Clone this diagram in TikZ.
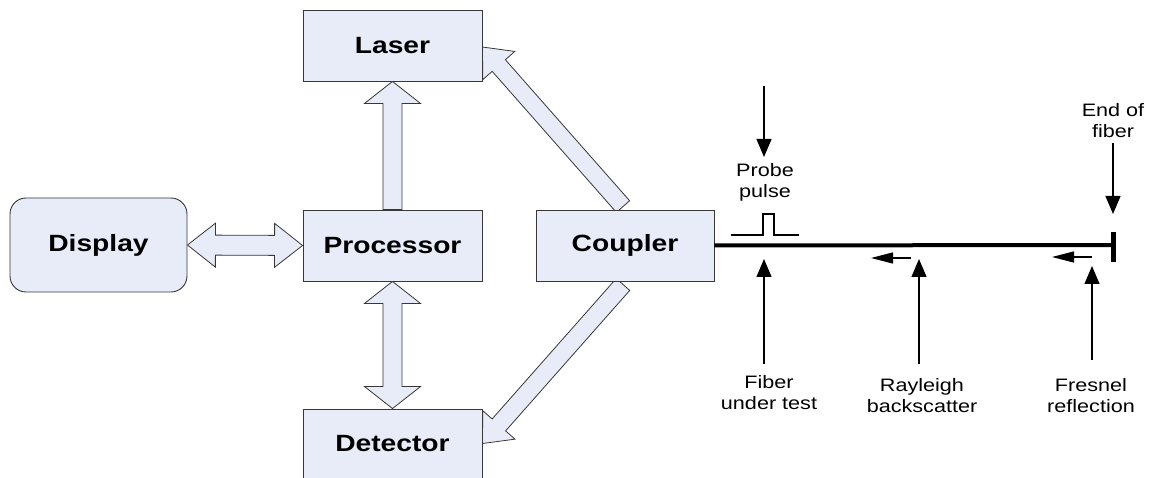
\documentclass[tikz,border=0pt]{standalone}
\usepackage{fontspec}
\setmainfont{Liberation Sans}[FakeStretch=1.2]
\usetikzlibrary{calc,arrows.meta}
\pgfdeclarelayer{bg}
\pgfsetlayers{bg,main}
\definecolor{boxfill}{RGB}{231,236,248}
\definecolor{edgecol}{RGB}{55,55,55}
\tikzset{
  blockbox/.style={draw=edgecol, fill=boxfill, line width=0.9pt, minimum width=179pt,
    minimum height=71pt, inner sep=0pt, font=\fontsize{23.5}{28}\selectfont\bfseries},
  fatarr/.style={draw=edgecol, fill=boxfill, line width=0.8pt, line join=miter},
  lbl/.style={align=center, inner sep=0pt, font=\fontsize{18}{21}\selectfont},
  thinarr/.style={line width=1.3pt, -{Triangle[length=18pt,width=15pt]}},
  smallarr/.style={line width=1.3pt, -{Triangle[length=22pt,width=11pt]}},
}
% #1 start, #2 end, #3 shaft half width, #4 head half width, #5 head length
\newcommand{\fatarrow}[5]{%
  \path (#1) coordinate (faS) (#2) coordinate (faE);
  \coordinate (faH) at ($(faE)!#5!(faS)$);
  \draw[fatarr] ($(faS)!#3!90:(faE)$) -- ($(faH)!#3!-90:(faS)$) -- ($(faH)!#4!-90:(faS)$)
    -- (faE) -- ($(faH)!#4!90:(faS)$) -- ($(faH)!#3!90:(faS)$) -- ($(faS)!#3!-90:(faE)$) -- cycle;
}
\newcommand{\fatdarrow}[5]{%
  \path (#1) coordinate (faS) (#2) coordinate (faE);
  \coordinate (faHa) at ($(faS)!#5!(faE)$);
  \coordinate (faHb) at ($(faE)!#5!(faS)$);
  \draw[fatarr] (faS) -- ($(faHa)!#4!90:(faE)$) -- ($(faHa)!#3!90:(faE)$)
    -- ($(faHb)!#3!-90:(faS)$) -- ($(faHb)!#4!-90:(faS)$) -- (faE)
    -- ($(faHb)!#4!90:(faS)$) -- ($(faHb)!#3!90:(faS)$)
    -- ($(faHa)!#3!-90:(faE)$) -- ($(faHa)!#4!-90:(faE)$) -- cycle;
}
\begin{document}
\begin{tikzpicture}[x=1pt,y=-1pt]
\useasboundingbox (0,0) rectangle (1149,478);
% blocks
\node[blockbox] (laser) at (392.5,45.5) {Laser};
\node[blockbox] (proc) at (392.5,245.5) {Processor};
\node[blockbox, minimum width=178pt] (coup) at (625,245.5) {Coupler};
\node[blockbox, minimum height=69pt] (det) at (392.5,443.5) {Detector};
\node[blockbox, minimum width=177pt, minimum height=94pt, rounded corners=16pt] (disp) at (98.5,245) {Display};
% block arrows
\begin{pgfonlayer}{bg}
\fatarrow{proc.north}{laser.south}{9.5pt}{28pt}{22pt}
\fatdarrow{proc.south}{det.north}{9.5pt}{28pt}{22pt}
\fatdarrow{disp.east}{proc.west}{10pt}{22pt}{28pt}
\fatarrow{$(coup.north)+(-2,-3)$}{$(laser.east)+(0,1.5)$}{8.8pt}{21.3pt}{24.7pt}
\fatarrow{$(coup.south)+(-2,3)$}{det.east}{9pt}{21.5pt}{24.8pt}
\end{pgfonlayer}
% fiber
\coordinate (fend) at (1113,245);
\draw[line width=4pt] (coup.east) -- (fend);
\draw[line width=5pt] ($(fend)+(0,-13)$) -- ($(fend)+(0,17)$);
% probe pulse
\draw[line width=1.3pt] (731,235) -- (763,235) -- (763,214) -- (774,214) -- (774,235) -- (799,235);
% labels
\node[lbl] (probe) at (765,182) {Probe\\pulse};
\node[lbl] (endf) at (1113,120.5) {End of\\fiber};
\node[lbl] (fut) at (769,392.5) {Fiber\\under test};
\node[lbl] (ray) at (922,395.5) {Rayleigh\\backscatter};
\node[lbl] (fres) at (1091,395.5) {Fresnel\\reflection};
% pointer arrows
\coordinate (pA) at (764,86);   \coordinate (pB) at (764,157);
\coordinate (eA) at (1113,143); \coordinate (eB) at (1113,214);
\coordinate (fA) at (764,364);  \coordinate (fB) at (764,259);
\coordinate (rA) at (919,364);  \coordinate (rB) at (919,259);
\coordinate (sA) at (1092,360); \coordinate (sB) at (1092,266);
\draw[thinarr] (pA) -- (pB);
\draw[thinarr] (eA) -- (eB);
\draw[thinarr] (fA) -- (fB);
\draw[thinarr] (rA) -- (rB);
\draw[thinarr] (sA) -- (sB);
% backward travelling light
\coordinate (bA) at (911,258);  \coordinate (bB) at (871,258);
\coordinate (cA) at (1092,257); \coordinate (cB) at (1052,257);
\draw[smallarr] (bA) -- (bB);
\draw[smallarr] (cA) -- (cB);
\end{tikzpicture}
\end{document}
